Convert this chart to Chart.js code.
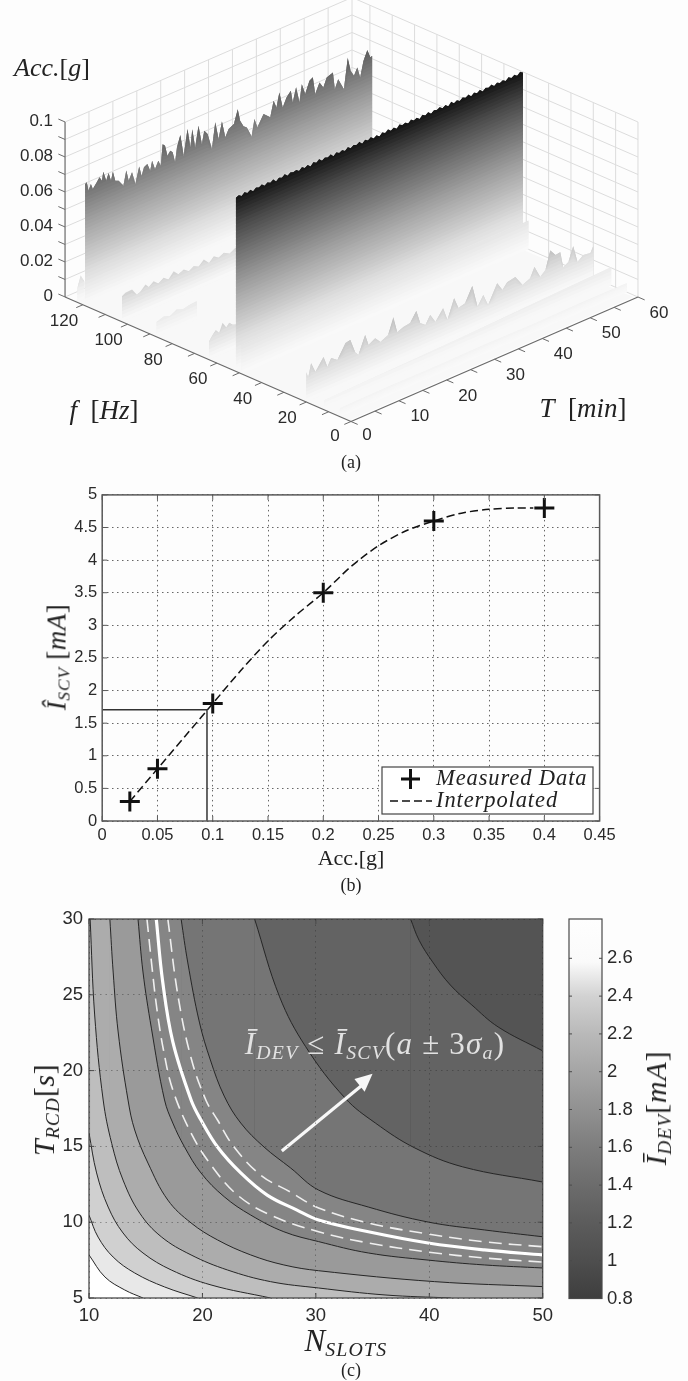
<!DOCTYPE html>
<html><head><meta charset="utf-8">
<script src="https://cdn.jsdelivr.net/npm/chart.js@4"></script>
<style>
html,body{margin:0;padding:0;background:#fdfdfd;}
#page{position:relative;width:688px;height:1381px;overflow:hidden;background:#fdfdfd;filter:blur(0.45px);}
canvas{position:absolute;left:0;}
.t{position:absolute;transform:translate(-50%,-50%);white-space:nowrap;font-family:'Liberation Serif',serif;color:#222;line-height:1;}
.i{font-style:italic;}
.r{transform:translate(-50%,-50%) rotate(-90deg);}
.t sub{font-size:.64em;vertical-align:baseline;position:relative;top:.24em;font-style:italic;letter-spacing:.06em;}
.n{font-style:normal;}
</style></head><body>
<div id="page">
<canvas id="ca" width="688" height="480" style="top:0;width:688px;height:480px"></canvas>
<canvas id="cb" width="688" height="410" style="top:480px;width:688px;height:410px"></canvas>
<canvas id="cc" width="560" height="491" style="top:890px;width:560px;height:491px"></canvas>
<canvas id="cd" width="128" height="491" style="top:890px;left:560px;width:128px;height:491px"></canvas>

<div class="t i" style="left:52px;top:68px;font-size:26px">Acc.<span class="n">[</span>g<span class="n">]</span></div>
<div class="t i" style="left:104px;top:410px;font-size:27px">f&nbsp;&nbsp;<span class="n">[</span>Hz<span class="n">]</span></div>
<div class="t i" style="left:583px;top:408px;font-size:27px">T&nbsp;&nbsp;<span class="n">[</span>min<span class="n">]</span></div>
<div class="t" style="left:351px;top:462px;font-size:18px">(a)</div>

<div class="t r i" style="left:57px;top:657px;font-size:27px;letter-spacing:.5px">Î<sub>SCV</sub> <span class="n">[</span>mA<span class="n">]</span></div>
<div class="t" style="left:351px;top:858px;font-size:22px">Acc.[g]</div>
<div class="t" style="left:351px;top:885px;font-size:18px">(b)</div>

<div class="t r i" style="left:44px;top:1110px;font-size:30px;letter-spacing:.5px">T<sub>RCD</sub><span class="n">[</span>s<span class="n">]</span></div>
<div class="t i" style="left:346px;top:1340px;font-size:31px">N<sub>SLOTS</sub></div>
<div class="t" style="left:351px;top:1370px;font-size:18px">(c)</div>
<div class="t r i" style="left:656px;top:1108px;font-size:30px;letter-spacing:.8px">Ī<sub>DEV</sub><span class="n">[</span>mA<span class="n">]</span></div>
<div class="t i" style="left:375px;top:1043px;font-size:31px;letter-spacing:1.2px;color:#e2e2e2">Ī<sub>DEV</sub> <span class="n">≤</span> Ī<sub>SCV</sub><span class="n">(</span>a <span class="n">± 3</span>σ<sub>a</sub><span class="n">)</span></div>
</div>
<script>
/* ---------- panel (a) data ---------- */
const freqTicks=[0,10,20,30,40,50,60,70,80,90,100,110,120];
const freqLabels=[0,20,40,60,80,100,120];
const timeTicks=[0,5,10,15,20,25,30,35,40,45,50,55,60];
const timeLabels=[0,10,20,30,40,50,60];
const accTicks=[0,.01,.02,.03,.04,.05,.06,.07,.08,.09,.1];
const accLabels=[0,.02,.04,.06,.08,.1];
const freqMax=128, timeMax=60;

const backT=[0,.35,.7,1.2,1.6,2.4,3,3.5,3.8,4.4,4.9,5.4,5.8,6.3,7,8,8.6,9.1,9.8,10.5,11.3,11.8,12.3,13,13.6,14,14.6,15.3,15.8,16.2,16.7,17.2,17.8,18.3,18.8,19.2,19.9,20.6,21.4,22,22.4,23,23.7,24.4,24.9,25.6,26.5,27.2,27.9,28.6,29.3,30,31.1,31.9,32.4,33.1,33.8,34.8,35.4,36,37.3,38.7,39.4,40,40.6,41.3,42.1,43,43.4,44.1,44.8,45.3,46,46.9,47.6,48.1,49,49.8,50.5,51.8,52.2,52.9,54.1,54.9,55.5,56.2,56.9,57.5,58.2,59,59.6,60];
const backZ=[.0695,.0701,.0649,.0681,.0648,.0676,.0698,.0673,.072,.0662,.07,.065,.0697,.064,.0631,.059,.067,.0606,.0646,.0571,.0662,.0602,.0645,.0655,.061,.0662,.0607,.0647,.0612,.0731,.0716,.0653,.0675,.066,.0596,.0678,.0739,.0613,.0756,.0645,.0743,.0632,.0747,.0634,.0705,.0678,.0581,.0726,.0622,.0713,.0615,.0654,.0669,.0745,.0673,.0633,.0618,.0554,.0647,.0592,.0653,.0618,.0704,.0658,.0737,.0643,.0691,.0718,.0647,.0725,.0631,.0729,.0664,.0729,.0741,.0639,.0695,.0657,.0706,.0719,.0618,.0667,.0596,.0768,.0684,.0647,.0687,.0623,.071,.0762,.0713,.0715];

const frontT=[0,.6,1.2,1.8,2.4,3,3.6,4.2,4.8,5.4,6,6.6,7.2,7.8,8.4,9,9.6,10.2,10.8,11.4,12,12.6,13.2,13.8,14.4,15,15.6,16.2,16.8,17.4,18,18.6,19.2,19.8,20.4,21,21.6,22.2,22.8,23.4,24,24.6,25.2,25.8,26.4,27,27.6,28.2,28.8,29.4,30,30.6,31.2,31.8,32.4,33,33.6,34.2,34.8,35.4,36,36.6,37.2,37.8,38.4,39,39.6,40.2,40.8,41.4,42,42.6,43.2,43.8,44.4,45,45.6,46.2,46.8,47.4,48,48.6,49.2,49.8,50.4,51,51.6,52.2,52.8,53.4,54,54.6,55.2,55.8,56.4,57,57.6,58.2,58.8,59.4,60];
const frontZ=[.0992,.1,.0988,.1004,.0991,.1003,.0987,.1001,.0994,.1006,.0989,.1002,.0993,.1005,.0986,.1,.0992,.1007,.099,.1003,.0995,.1001,.0988,.1005,.0991,.1002,.0986,.1004,.0993,.1008,.099,.1001,.0994,.1006,.0987,.1003,.0992,.1,.0989,.1005,.0991,.1002,.0995,.1007,.0988,.1003,.0992,.1005,.099,.1001,.0986,.1004,.0993,.1006,.0991,.1002,.0988,.1007,.0994,.1003,.099,.1005,.0992,.1001,.0987,.1004,.0993,.1006,.0989,.1002,.0995,.1005,.0991,.1003,.0988,.1007,.0992,.1001,.099,.1004,.0994,.1006,.0989,.1003,.0992,.1005,.0987,.1002,.0995,.1006,.0991,.1004,.0993,.1002,.099,.1007,.0994,.1005,.0992,.1008,.0997,.101];

const midT=[0,.7,2.1,3.1,3.8,4.9,5.6,6.6,7.6,8.7,9.7,10.8,11.8,12.9,14,15,16,17.1,18.2,19.2,20.2,21.3,22.5,23.7,25];
const midZ=[.0146,.0158,.016,.0118,.0125,.0155,.0132,.0153,.0128,.0148,.0126,.016,.0131,.0146,.0122,.014,.0124,.0153,.012,.0147,.0126,.0142,.0122,.0141,.013];
const faintT=[0,1.5,2.8,4.2,5.5,6.9,8.4];
const faintZ=[.0085,.0098,.0086,.0108,.0092,.0102,.0105];
const lowT=[0,.7,1.4,2.1,2.8,3.6,4.2,4.9,5.6];
const lowZ=[.0105,.0132,.0152,.0128,.0178,.0142,.0162,.0141,.0135];
const edgeT=[0,.7,1.5];
const edgeZ=[.008,.0146,.01];

const sideT=[0,.4,1,1.9,3.6,4.4,5.2,6.5,8.2,9.2,10.2,10.9,12.3,13,14.4,15.5,17.1,18.2,19,20.3,21.7,23,23.8,24.9,25.9,27,28.6,29.5,30.9,31.8,33.2,34.7,35.8,37,38,39.9,41,42,43.7,45.2,46.8,47.7,48.9,50,51,52.1,53.1,53.7,54.8,55.8,56.7,57.9,59.4,60];
const sideZ=[.017,.0132,.021,.0149,.0215,.0148,.019,.0163,.024,.0245,.0164,.0139,.0237,.0172,.0194,.016,.018,.027,.0174,.0188,.0194,.0247,.0169,.0145,.019,.0137,.0197,.0119,.0227,.016,.0171,.0251,.0119,.0173,.0103,.0206,.0154,.0187,.0196,.0133,.0153,.0206,.0134,.0162,.0263,.0222,.0227,.0134,.015,.0229,.0128,.0153,.0147,.018];

const flareT=[0,10,20,30,40,50,60];
const flareZ=[.0165,.016,.0168,.0162,.0166,.016,.0165];
const baseT=[0,10,20,30,40,50,60];
const stripe12Z=[.0055,.0062,.0068,.0074,.0085,.0095,.0105];
const stripe5Z=[.0048,.0052,.005,.0053,.005,.0054,.0052];

/* colormap of the surface: height to gray */
const mapZ=[0,.005,.01,.02,.03,.05,.07,.085,.1];
const mapGray=[250,246,238,222,200,158,110,72,24];
function grayAt(z){
  for(let i=1;i<mapZ.length;i++){ if(z<=mapZ[i]){const t=(z-mapZ[i-1])/(mapZ[i]-mapZ[i-1]);const g=Math.round(mapGray[i-1]+t*(mapGray[i]-mapGray[i-1]));return `rgb(${g},${g},${g})`;} }
  return 'rgb(24,24,24)';
}
const project=(T,f,z)=>({x:351+4.783*T-2.234*f,y:421.5-2.075*T-.973*f-1750*z});

const A=[];
function seg(a,b,color,w){A.push({data:[a,b],borderColor:color,borderWidth:w,showLine:true,pointRadius:0,fill:false});}
function poly(pts,color){A.push({data:pts,backgroundColor:color,borderWidth:0,borderColor:'transparent',showLine:true,pointRadius:0,fill:'shape',tension:0});}
/* back walls */
const GRID='#dcdcdc';
accTicks.slice(1).forEach(z=>{seg(project(0,freqMax,z),project(timeMax,freqMax,z),GRID,1);seg(project(timeMax,freqMax,z),project(timeMax,0,z),GRID,1);});
timeTicks.slice(1).forEach(t=>seg(project(t,freqMax,0),project(t,freqMax,.1),GRID,1));
freqTicks.forEach(f=>seg(project(timeMax,f,0),project(timeMax,f,.1),GRID,1));
seg(project(0,freqMax,0),project(timeMax,freqMax,0),GRID,1);
seg(project(timeMax,freqMax,0),project(timeMax,0,0),GRID,1);
/* floor */
poly([project(0,1,0),project(0,124,0),project(59,124,0),project(59.5,1,0)],'#f8f8f8');
/* walls, far to near; each band overlaps only the band beneath it */
function wall(f,Ts,Zs,mult,step){
  const top=Math.max(...Zs);
  for(let k=Math.ceil(top/step);k>=1;k--){
    const lev=k*step, lo=Math.max(0,(k-2)*step);
    const pts=Ts.map((t,i)=>project(t,f,Math.min(lev,Zs[i])));
    for(let i=Ts.length-1;i>=0;i--) pts.push(project(Ts[i],f,Math.min(lo,Zs[i])));
    poly(pts,grayAt(Math.min(.1,lev*mult)));
  }
}
wall(122.5,edgeT,edgeZ,1.2,.002);
wall(119,backT,backZ,1,.002);
wall(102.5,midT,midZ,1.5,.002);
wall(87,faintT,faintZ,1.1,.002);
wall(63.5,lowT,lowZ,1.4,.002);
wall(51.5,frontT,frontZ,1,.002);
wall(49,flareT,flareZ,.9,.002);
wall(20,sideT,sideZ,1.2,.002);
wall(12,baseT,stripe12Z,1,.002);
wall(5,baseT,stripe5Z,1.2,.001);
/* axes */
const AX='#6a6a6a';
seg(project(0,0,0),project(0,freqMax,0),AX,1.2);
seg(project(0,0,0),project(timeMax,0,0),AX,1.2);
seg(project(0,freqMax,0),project(0,freqMax,.1),AX,1.2);
freqTicks.forEach(f=>seg(project(0,f,0),project(-1.4,f,0),AX,1));
timeTicks.forEach(t=>seg(project(t,0,0),project(t,-3,0),AX,1));
accTicks.forEach(z=>seg(project(0,freqMax,z),project(0,freqMax+3,z),AX,1));

const labelsA={id:'labelsA',afterDatasetsDraw(c){
  const g=c.ctx,sx=c.scales.x,sy=c.scales.y;
  g.save();g.font="17px 'Liberation Sans'";g.fillStyle='#2a2a2a';g.textBaseline='middle';g.textAlign='center';
  const put=(p,dx,dy,s)=>g.fillText(s,sx.getPixelForValue(p.x)+dx,sy.getPixelForValue(p.y)+dy);
  freqLabels.forEach(f=>put(project(0,f,0),f===0?-16:-19,f===0?15:16.5,String(f)));
  timeLabels.forEach(t=>put(project(t,0,0),t===0?16:21,t===0?14:16,String(t)));
  g.textAlign='right';
  accLabels.forEach(z=>put(project(0,freqMax,z),-12,-1,String(z)));
  g.restore();
}};
new Chart(document.getElementById('ca'),{type:'scatter',data:{datasets:A.reverse()},plugins:[labelsA],options:{
  responsive:false,animation:false,devicePixelRatio:1,layout:{padding:0},
  plugins:{legend:{display:false},tooltip:{enabled:false}},events:[],
  scales:{x:{type:'linear',display:false,min:0,max:688},y:{type:'linear',display:false,min:0,max:480,reverse:true}}
}});

/* ---------- panel (b) data ---------- */
const measuredAcc=[.025,.05,.1,.2,.3,.4];
const measuredCur=[.3,.8,1.8,3.5,4.6,4.8];
const curveAcc=[.025,.05,.075,.1,.125,.15,.175,.2,.225,.25,.275,.3,.325,.35,.375,.39];
const curveCur=[.3,.8,1.3,1.8,2.3,2.76,3.15,3.5,3.9,4.22,4.45,4.6,4.72,4.78,4.8,4.8];
const refAcc=[0,.0948,.0948];
const refCur=[1.706,1.706,0];
const zip=(a,b)=>a.map((v,i)=>({x:v,y:b[i]}));
const plainTick=v=>String(+(+v).toFixed(2));

function frame(opts){return{id:'frame',afterDatasetsDraw(c){
  const g=c.ctx,a=c.chartArea;g.save();g.strokeStyle=opts.color;g.lineWidth=opts.width;
  g.strokeRect(a.left,a.top,a.right-a.left,a.bottom-a.top);
  g.lineWidth=1;g.beginPath();const n=opts.len;
  c.scales.x.ticks.forEach(t=>{const p=c.scales.x.getPixelForValue(t.value);g.moveTo(p,a.bottom);g.lineTo(p,a.bottom-n);g.moveTo(p,a.top);g.lineTo(p,a.top+n);});
  c.scales.y.ticks.forEach(t=>{const p=c.scales.y.getPixelForValue(t.value);g.moveTo(a.left,p);g.lineTo(a.left+n,p);g.moveTo(a.right,p);g.lineTo(a.right-n,p);});
  g.stroke();g.restore();
}};}
const legendB={id:'legendB',afterDraw(c){
  const g=c.ctx;g.save();
  g.fillStyle='#fff';g.strokeStyle='#444';g.lineWidth=1.2;
  g.fillRect(382,287,211,47);g.strokeRect(382,287,211,47);
  g.strokeStyle='#111';g.lineWidth=3;g.beginPath();g.moveTo(401,299);g.lineTo(420,299);g.moveTo(410.5,289);g.lineTo(410.5,309);g.stroke();
  g.lineWidth=1.5;g.setLineDash([8,4]);g.beginPath();g.moveTo(390,321);g.lineTo(432,321);g.stroke();g.setLineDash([]);
  g.fillStyle='#222';g.font="italic 22.5px 'Liberation Serif'";g.textBaseline='middle';g.textAlign='left';
  g.letterSpacing='0.9px';
  g.fillText('Measured Data',436,299);g.fillText('Interpolated',436,321);
  g.restore();
}};
const axisFont={family:"'Liberation Sans'",size:16.5};
new Chart(document.getElementById('cb'),{type:'scatter',data:{datasets:[
  {label:'Measured Data',data:zip(measuredAcc,measuredCur),pointStyle:'cross',pointRadius:10,pointBorderWidth:3,pointBorderColor:'#111',showLine:false},
  {label:'Interpolated',data:zip(curveAcc,curveCur),showLine:true,pointRadius:0,borderColor:'#111',borderWidth:1.5,borderDash:[8,4],tension:.3},
  {label:'Operating point',data:zip(refAcc,refCur),showLine:true,pointRadius:0,borderColor:'#333',borderWidth:1.5}
]},plugins:[frame({color:'#5a5a5a',width:1.5,len:5}),legendB],options:{
  responsive:false,animation:false,devicePixelRatio:1,events:[],
  layout:{padding:{left:62.2,right:88.4,top:13.7,bottom:34}},
  plugins:{legend:{display:false},tooltip:{enabled:false}},
  scales:{
    x:{type:'linear',min:0,max:.45,afterFit(s){s.height=35;},border:{display:false,dash:[1.5,3.5]},
       grid:{color:'#666',lineWidth:1,drawTicks:false},
       ticks:{stepSize:.05,font:axisFont,color:'#2a2a2a',padding:5,maxRotation:0,autoSkip:false,callback:plainTick}},
    y:{type:'linear',min:0,max:5,afterFit(s){s.width=40;},border:{display:false,dash:[1.5,3.5]},
       grid:{color:'#666',lineWidth:1,drawTicks:false},
       ticks:{stepSize:.5,font:axisFont,color:'#2a2a2a',padding:5,autoSkip:false,callback:plainTick}}
  }
}});

/* ---------- panel (c) data: contour lines read as (N, T) ---------- */
const c1N=[38.35,39.1,40.3,41.85,43.75,46.07,50], c1T=[30,28.6,27.16,25.65,24.33,22.88,21.3];
const c2N=[24.6,26.8,29.1,32.57,35.25,38.72,42.95,50], c2T=[30,24.87,21.58,18.19,16.54,14.9,13.65,12.65];
const c3N=[18.12,18.7,19.73,20.7,21.92,23.38,25.43,27.77,30.24,34.63,39.9,44.86,50], c3T=[30,27.16,23.2,20.7,18.32,16.54,14.96,13.58,12.12,11,10.01,9.49,9.04];
const upN=[16.95,17.83,19,20.3,21.33,22.79,25.13,27.76,30.24,34.63,39.9,44.86,50], upT=[30,25,20.83,18.06,16.74,14.96,13.11,11.99,10.94,9.95,9.22,8.71,8.38];
const limN=[15.93,16.5,17.39,19,19.87,21.33,23.38,25.71,28.34,30.24,34.63,39.9,44.86,50], limT=[30,25.84,21.89,18.06,16.74,14.96,13.25,11.79,10.8,10.15,9.37,8.63,8.17,7.84];
const lowN=[15.11,15.58,16.02,16.6,17.39,19,20.76,23.09,26,30.24,34.63,39.9,44.86,50], lowDashT=[30,26.64,23.87,21.23,18.72,15.88,13.77,11.79,10.47,9.37,8.63,8.03,7.64,7.37];
const c4N=[14.32,14.76,15.5,16.66,17.39,18.41,19.87,21.92,24.26,27.18,30.24,34.63,39.9,44.86,50], c4T=[30,26.5,22.8,18.06,16.54,14.98,13.25,11.68,10.47,9.37,8.72,7.97,7.5,7.18,6.98];
const c5N=[11.84,12.13,12.57,13.44,14.03,15.2,16.95,19,21.33,24.26,27.18,30.24,40.47,50], c5T=[30,26.5,22.55,18.06,16.08,13.9,11.46,9.95,8.83,7.84,7.18,6.8,6.08,5.75];
const c6N=[10.1,10.5,11.25,12,13,14.47,16.37,19,22.2,26,30.24,36.1,41.9], c6T=[30,23.67,18.06,15.2,12.78,10.6,9.04,7.84,6.85,6.08,5.66,5.2,5];
const c7N=[10,10.67,11.69,13,14.76,17.25,20.76,26], c7T=[15.88,13.25,11,9.29,7.97,6.85,5.86,5];
const c8N=[10,10.8,12.13,14.03,16.66,19.58], c8T=[10.47,9.02,7.7,6.65,5.73,5];
const c9N=[10,11.4,13.15,14.76], c9T=[7.84,6.39,5.53,5];
const arrowN=[27,34.5], arrowT=[14.7,19.3];
const headN=[35,34.3,33.4], headT=[19.8,18.6,19.45];

const bandGrays=[99,117,133,154,172,190,208,232,255];
const bandLines=[[c1N,c1T],[c2N,c2T],[c3N,c3T],[c4N,c4T],[c5N,c5T],[c6N,c6T],[c7N,c7T],[c8N,c8T],[c9N,c9T]];
const g2=v=>`rgb(${v},${v},${v})`;
const TENS=.38;
const C=[];
C.push({data:zip([10,50,50,10],[5,5,30,30]),backgroundColor:g2(84),borderWidth:0,showLine:true,pointRadius:0,fill:'shape'});
bandLines.forEach((l,i)=>{
  const col=g2(bandGrays[i]);
  if(l[0][0]>10) C.push({data:zip([10,l[0][0],l[0][0],10],[5,5,30,30]),backgroundColor:col,borderWidth:0,showLine:true,pointRadius:0,fill:'shape'});
  C.push({data:zip(l[0],l[1]),backgroundColor:col,borderWidth:0,borderColor:'transparent',showLine:true,pointRadius:0,fill:'start',tension:TENS});
});
bandLines.forEach(l=>C.push({data:zip(l[0],l[1]),borderColor:'#262626',borderWidth:1,showLine:true,pointRadius:0,fill:false,tension:TENS}));
C.push({data:zip(upN,upT),borderColor:'#efefef',borderWidth:1.6,borderDash:[13,7],showLine:true,pointRadius:0,fill:false,tension:TENS});
C.push({data:zip(lowN,lowDashT),borderColor:'#efefef',borderWidth:1.6,borderDash:[13,7],showLine:true,pointRadius:0,fill:false,tension:TENS});
C.push({data:zip(limN,limT),borderColor:'#fff',borderWidth:3.2,showLine:true,pointRadius:0,fill:false,tension:TENS});
C.push({data:zip(arrowN,arrowT),borderColor:'#f8f8f8',borderWidth:3.2,showLine:true,pointRadius:0,fill:false});
C.push({data:zip(headN,headT),backgroundColor:'#f8f8f8',borderWidth:0,showLine:true,pointRadius:0,fill:'shape'});

const tickFontC={family:"'Liberation Sans'",size:18.5};
new Chart(document.getElementById('cc'),{type:'scatter',data:{datasets:C.reverse()},plugins:[frame({color:'#4a4a4a',width:1.3,len:5})],options:{
  responsive:false,animation:false,devicePixelRatio:1,events:[],
  layout:{padding:{left:49,right:14.5,top:29,bottom:43}},
  plugins:{legend:{display:false},tooltip:{enabled:false}},
  scales:{
    x:{type:'linear',min:10,max:50,afterFit(s){s.height=40;},border:{display:false,dash:[1.5,4]},
       grid:{color:'rgba(40,40,40,.4)',lineWidth:1,drawTicks:false,z:1},
       ticks:{stepSize:10,font:tickFontC,color:'#2a2a2a',padding:7,maxRotation:0,autoSkip:false}},
    y:{type:'linear',min:5,max:30,afterFit(s){s.width=40;},border:{display:false,dash:[1.5,4]},
       grid:{color:'rgba(40,40,40,.4)',lineWidth:1,drawTicks:false,z:1},
       ticks:{stepSize:5,font:tickFontC,color:'#2a2a2a',padding:6,autoSkip:false}}
  }
}});

/* ---------- colour bar ---------- */
const barValues=[.8,1,1.2,1.4,1.6,1.8,2,2.2,2.4,2.58,2.808];
const barGrays=[62,78,92,108,125,145,165,185,210,250,254];
const barTicks=[.8,1,1.2,1.4,1.6,1.8,2,2.2,2.4,2.6];
const barMin=.8, barMax=2.808;
const barFrame={id:'barFrame',afterDatasetsDraw(c){
  const g=c.ctx,a=c.chartArea;g.save();g.strokeStyle='#4a4a4a';g.lineWidth=1.2;
  g.strokeRect(a.left,a.top,a.right-a.left,a.bottom-a.top);
  g.lineWidth=1;g.beginPath();
  c.scales.y.ticks.forEach(t=>{const p=c.scales.y.getPixelForValue(t.value);g.moveTo(a.left,p);g.lineTo(a.left+3,p);g.moveTo(a.right,p);g.lineTo(a.right-3,p);});
  g.stroke();g.restore();
}};
new Chart(document.getElementById('cd'),{type:'bar',data:{labels:['Ī'],datasets:[{data:[[barMin,barMax]],barPercentage:1,categoryPercentage:1,borderWidth:0,
  backgroundColor(ctx){
    const ch=ctx.chart,a=ch.chartArea;if(!a)return '#888';
    const grad=ch.ctx.createLinearGradient(0,a.bottom,0,a.top);
    barValues.forEach((v,i)=>grad.addColorStop((v-barMin)/(barMax-barMin),g2(barGrays[i])));
    return grad;
  }}]},plugins:[barFrame],options:{
  responsive:false,animation:false,devicePixelRatio:1,events:[],
  layout:{padding:{left:9,right:26,top:29,bottom:82.5}},
  plugins:{legend:{display:false},tooltip:{enabled:false}},
  scales:{
    x:{display:false},
    y:{type:'linear',position:'right',min:barMin,max:barMax,afterFit(s){s.width=60;},
       afterBuildTicks(s){s.ticks=barTicks.map(v=>({value:v}));},border:{display:false},
       grid:{display:false,drawTicks:false},
       ticks:{font:tickFontC,color:'#2a2a2a',padding:5,autoSkip:false,callback:plainTick}}
  }
}});
</script>
</body></html>
